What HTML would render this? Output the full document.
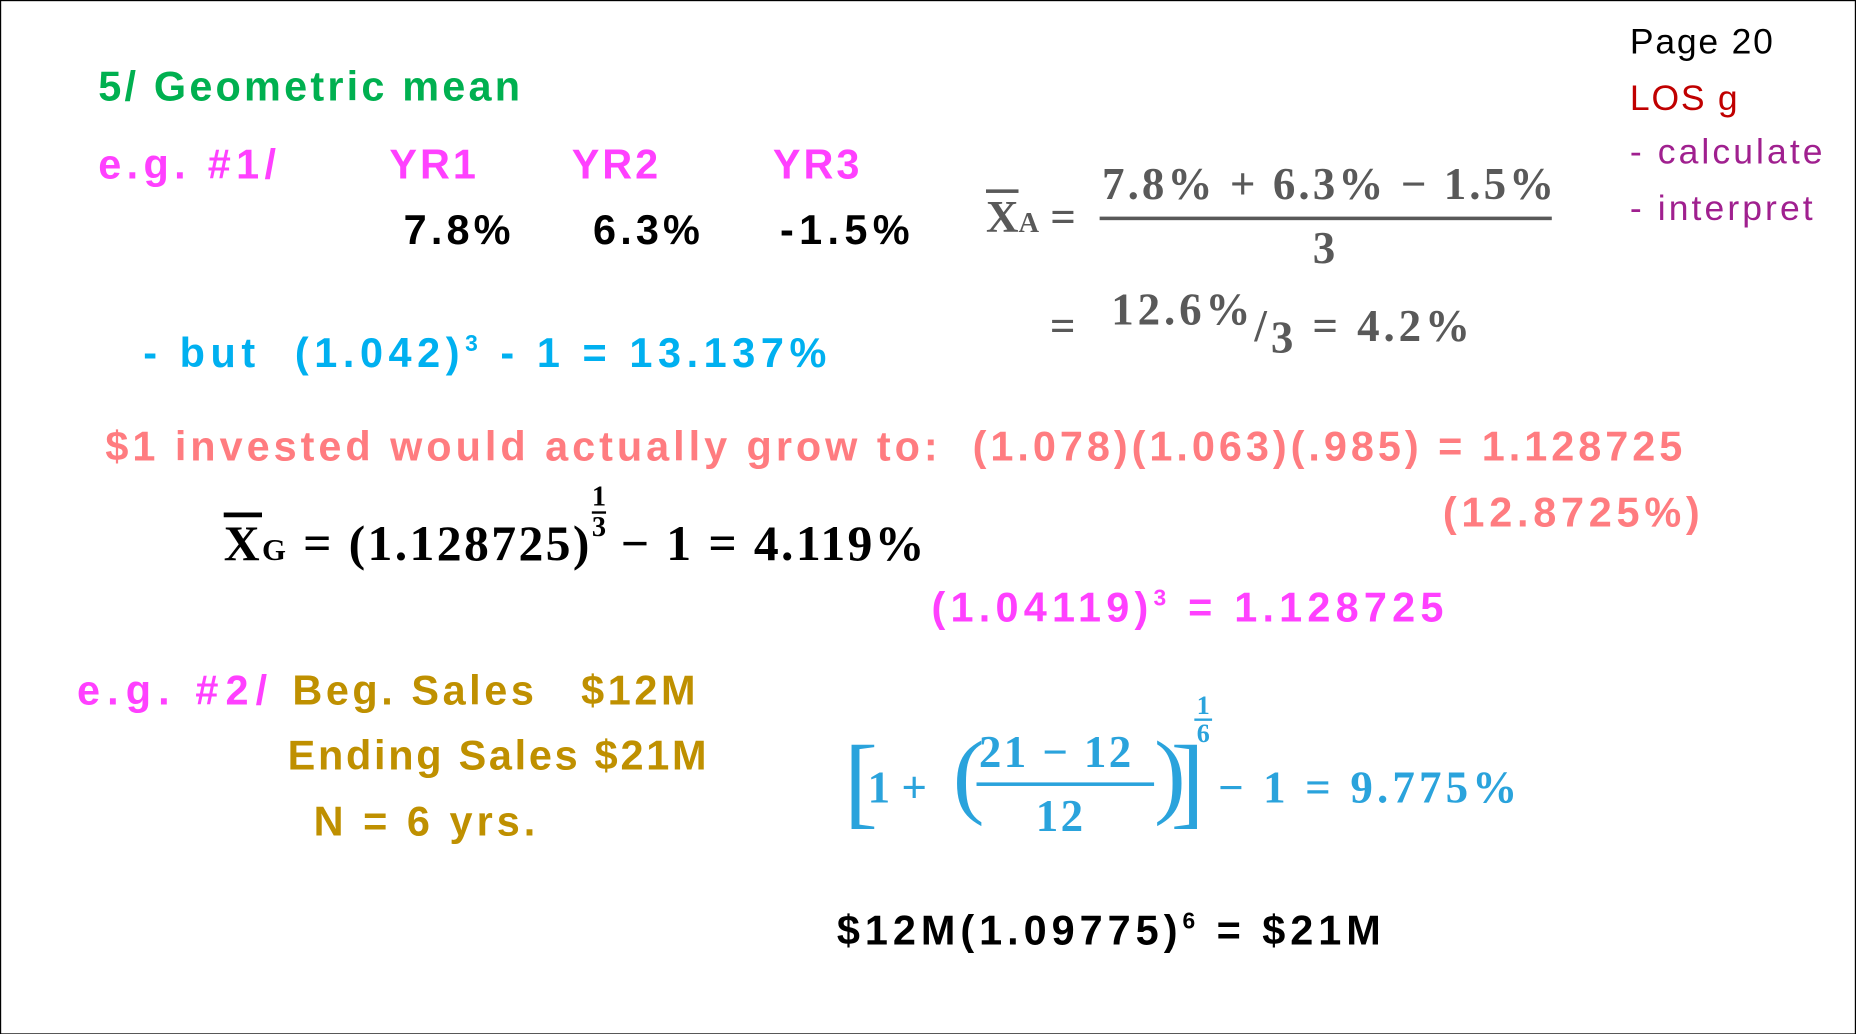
<!DOCTYPE html>
<html><head><meta charset="utf-8"><style>
html,body{margin:0;padding:0;background:#fff;overflow:hidden}
#wrap{width:1856px;height:1034px;position:relative;overflow:hidden;background:#fff}
#stage{position:absolute;left:0;top:0;width:1568px;height:874px;transform:scale(1.18367);transform-origin:0 0;box-sizing:border-box;border:1.5px solid #000}
.t{position:absolute;white-space:nowrap;font-family:"Liberation Sans",sans-serif;font-weight:bold;font-size:35px;line-height:1;letter-spacing:2.5px}
.m{position:absolute;white-space:nowrap;font-family:"Liberation Serif",serif;font-weight:bold;font-size:38px;line-height:1}
sup{font-size:55%;vertical-align:0.7em;line-height:0}
</style></head><body>
<div id="wrap"><div id="stage">
<div class="t" style="left:1376px;top:20px;font-size:30px;color:#000;font-weight:normal;letter-spacing:1.5px">Page 20</div>
<div class="t" style="left:1376px;top:68px;font-size:30px;color:#c00000;font-weight:normal;letter-spacing:1.5px">LOS g</div>
<div class="t" style="left:1376px;top:113px;font-size:30px;color:#a0208f;font-weight:normal;letter-spacing:2.6px">- calculate</div>
<div class="t" style="left:1376px;top:161px;font-size:30px;color:#a0208f;font-weight:normal;letter-spacing:2.6px">- interpret</div>

<div class="t" style="left:82px;top:55px;color:#00b050;letter-spacing:2.7px">5/ Geometric mean</div>
<div class="t" style="left:82px;top:121px;color:#ff40ff;letter-spacing:4.5px">e.g. #1/</div>
<div class="t" style="left:328px;top:121px;color:#ff40ff">YR1</div>
<div class="t" style="left:482px;top:121px;color:#ff40ff">YR2</div>
<div class="t" style="left:652px;top:121px;color:#ff40ff">YR3</div>
<div class="t" style="left:340px;top:176px;color:#000;letter-spacing:3.5px">7.8%</div>
<div class="t" style="left:500px;top:176px;color:#000;letter-spacing:3.5px">6.3%</div>
<div class="t" style="left:658px;top:176px;color:#000;letter-spacing:4.5px">-1.5%</div>

<div class="m" style="left:832px;top:164px;color:#595959"><span style="text-decoration:overline">X</span><span style="font-size:24px">A</span> =</div>
<div class="m" style="left:930px;top:136px;color:#595959;letter-spacing:2.6px">7.8% + 6.3% − 1.5%</div>
<div style="position:absolute;left:928px;top:182px;width:382px;height:3px;background:#595959"></div>
<div class="m" style="left:1108px;top:190px;color:#595959">3</div>
<div class="m" style="left:886px;top:256px;color:#595959;letter-spacing:3.3px">= <span style="position:relative;top:-14px;margin-left:14px">12.6%</span>/<span style="position:relative;top:10px">3</span> = 4.2%</div>

<div class="t" style="left:120px;top:280px;color:#00b0f0;letter-spacing:4.7px">- but &nbsp;(1.042)<sup>3</sup> - 1 = 13.137%</div>
<div class="t" style="left:88px;top:359px;color:#ff7c80;letter-spacing:3.35px">$1 invested would actually grow to: &nbsp;(1.078)(1.063)(.985) = 1.128725</div>
<div class="t" style="left:1218px;top:415px;color:#ff7c80;letter-spacing:4px">(12.8725%)</div>
<div class="m" style="left:188px;top:407px;color:#000;font-size:42px;letter-spacing:2px"><span style="text-decoration:overline">X</span><span style="font-size:26px">G</span> = (1.128725)<span style="display:inline-block;font-size:24px;text-align:center;vertical-align:20px;line-height:1;letter-spacing:0"><span style="display:block;border-bottom:2px solid #000">1</span><span style="display:block">3</span></span> − 1 = 4.119%</div>
<div class="t" style="left:786px;top:495px;color:#ff40ff;letter-spacing:4.4px">(1.04119)<sup>3</sup> = 1.128725</div>

<div class="t" style="left:64px;top:565px;color:#ff40ff;letter-spacing:6px">e.g. #2/</div>
<div class="t" style="left:246px;top:565px;color:#bf9000;letter-spacing:3px">Beg. Sales</div>
<div class="t" style="left:490px;top:565px;color:#bf9000;letter-spacing:3px">$12M</div>
<div class="t" style="left:242px;top:620px;color:#bf9000;letter-spacing:2.3px">Ending Sales $21M</div>
<div class="t" style="left:264px;top:676px;color:#bf9000;letter-spacing:3.4px">N = 6 yrs.</div>

<div class="m" style="left:712px;top:600px;color:#2aa3dc">
<span style="position:absolute;left:0;top:16px;font-size:86px;font-weight:normal">[</span>
<span style="position:absolute;left:20px;top:46px">1 +</span>
<span style="position:absolute;left:92px;top:14px;font-size:80px;font-weight:normal">(</span>
<span style="position:absolute;left:114px;top:16px;letter-spacing:2px">21 − 12</span>
<span style="position:absolute;left:112px;top:60px;width:150px;height:3px;background:#2aa3dc"></span>
<span style="position:absolute;left:162px;top:70px;letter-spacing:2px">12</span>
<span style="position:absolute;left:262px;top:14px;font-size:80px;font-weight:normal">)</span>
<span style="position:absolute;left:276px;top:16px;font-size:86px;font-weight:normal">]</span>
<span style="position:absolute;left:296px;top:-16px;font-size:22px;text-align:center;line-height:1"><span style="display:block;border-bottom:2px solid #2aa3dc;padding:0 2px">1</span><span style="display:block">6</span></span>
<span style="position:absolute;left:316px;top:46px;letter-spacing:3.5px">− 1 = 9.775%</span>
</div>

<div class="t" style="left:706px;top:768px;color:#000;letter-spacing:4.2px">$12M(1.09775)<sup>6</sup> = $21M</div>
</div></div>
</body></html>
